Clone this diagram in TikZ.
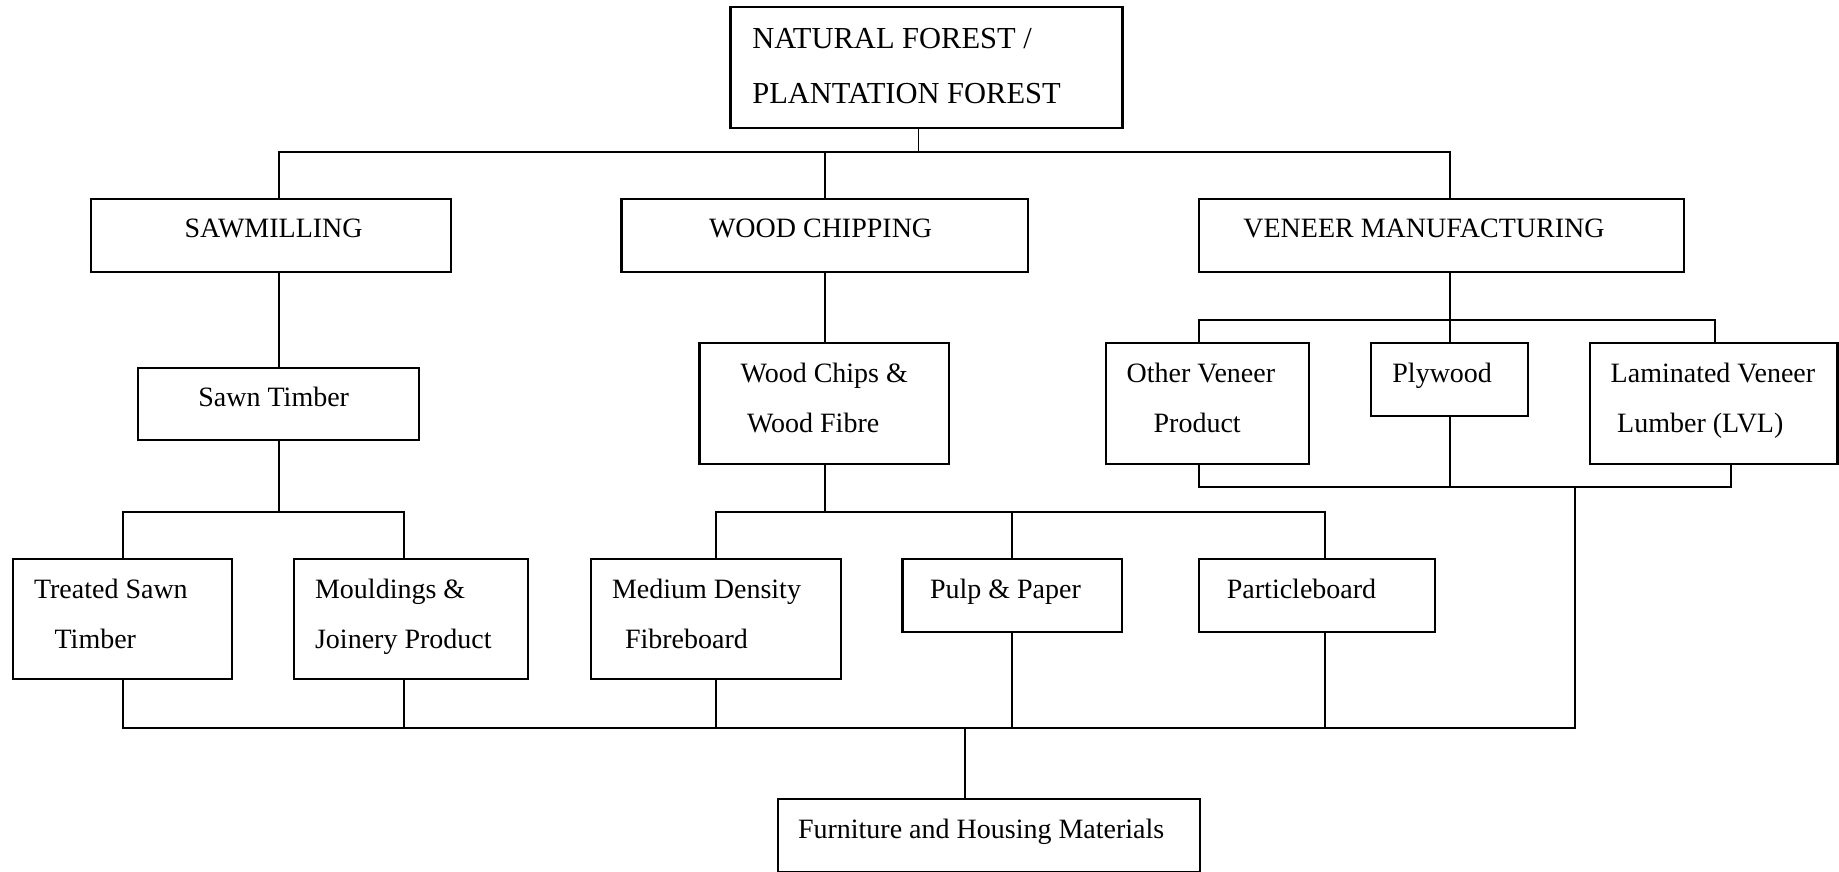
\documentclass[tikz,border=0pt]{standalone}
\usepackage{fontspec}
\setmainfont{Liberation Serif}
\begin{document}
\begin{tikzpicture}[x=1pt,y=-1pt,
  box/.style={draw, line width=2.3pt, inner sep=0pt, outer sep=0pt},
  conn/.style={draw, line width=1.7pt, line join=miter},
  txt/.style={anchor=base west, inner sep=0pt, outer sep=0pt, font=\fontsize{28}{33}\selectfont},
  bigtxt/.style={anchor=base west, inner sep=0pt, outer sep=0pt, font=\fontsize{30.5}{36}\selectfont}]
\useasboundingbox (0,0) rectangle (1839,871);
% boxes
\node[box, minimum width=391.9pt, minimum height=120.4pt] (top) at (926.55,67.5) {};
\node[box, minimum width=359.7pt, minimum height=72.4pt] (saw) at (270.85,235.5) {};
\node[box, minimum width=406.5pt, minimum height=72.4pt] (chip) at (824.75,235.5) {};
\node[box, minimum width=484.7pt, minimum height=72.4pt] (ven) at (1441.65,235.5) {};
\node[box, minimum width=281.1pt, minimum height=72.3pt] (sawn) at (278.45,403.85) {};
\node[box, minimum width=249.8pt, minimum height=120.7pt] (chips) at (824.4,403.65) {};
\node[box, minimum width=203pt, minimum height=120.7pt] (other) at (1207.5,403.65) {};
\node[box, minimum width=156.7pt, minimum height=72.7pt] (ply) at (1449.65,379.65) {};
\node[box, minimum width=247.3pt, minimum height=120.7pt] (lvl) at (1713.85,403.65) {};
\node[box, minimum width=218.9pt, minimum height=120pt] (treated) at (122.35,619.3) {};
\node[box, minimum width=234.2pt, minimum height=120pt] (mould) at (411.1,619.3) {};
\node[box, minimum width=250pt, minimum height=120pt] (mdf) at (716,619.3) {};
\node[box, minimum width=219.3pt, minimum height=72.7pt] (pulp) at (1012.25,595.65) {};
\node[box, minimum width=235.4pt, minimum height=72.7pt] (part) at (1317,595.65) {};
\node[box, minimum width=421.7pt, minimum height=72.5pt] (furn) at (989.05,835.55) {};
% texts
\node[bigtxt] (t1a) at (752.3,48.3) {NATURAL FOREST /};
\node[bigtxt] (t1b) at (752.3,103.3) {PLANTATION FOREST};
\node[txt] (t2) at (184.5,237.5) {SAWMILLING};
\node[txt] (t3) at (709,237.5) {WOOD CHIPPING};
\node[txt] (t4) at (1243.4,237.5) {VENEER MANUFACTURING};
\node[txt] (t5) at (198.4,406.7) {Sawn Timber};
\node[txt] (t6a) at (740.6,382.7) {Wood Chips \&};
\node[txt] (t6b) at (747,432.3) {Wood Fibre};
\node[txt] (t7a) at (1126.6,382.7) {Other Veneer};
\node[txt] (t7b) at (1153.6,432.3) {Product};
\node[txt] (t8) at (1392.4,382.7) {Plywood};
\node[txt] (t9a) at (1610.7,382.7) {Laminated Veneer};
\node[txt] (t9b) at (1617.2,432.3) {Lumber (LVL)};
\node[txt] (t10a) at (34,598.3) {Treated Sawn};
\node[txt] (t10b) at (54.6,648.3) {Timber};
\node[txt] (t11a) at (315.1,598.3) {Mouldings \&};
\node[txt] (t11b) at (315.1,648.3) {Joinery Product};
\node[txt] (t12a) at (612,598.3) {Medium Density};
\node[txt] (t12b) at (625,648.3) {Fibreboard};
\node[txt] (t13) at (930,598.3) {Pulp \& Paper};
\node[txt] (t14) at (1226.9,598.3) {Particleboard};
\node[txt] (t15) at (798,838.3) {Furniture and Housing Materials};
% column and row coordinates
\coordinate (c1) at (918.4,0);
\coordinate (c2) at (278.8,0);
\coordinate (c3) at (825,0);
\coordinate (c4) at (1450,0);
\coordinate (c5) at (1199.3,0);
\coordinate (c6) at (1715.2,0);
\coordinate (c7) at (122.7,0);
\coordinate (c8) at (403.8,0);
\coordinate (c9) at (716,0);
\coordinate (c10) at (1012.1,0);
\coordinate (c11) at (1325,0);
\coordinate (c12) at (1731,0);
\coordinate (c13) at (1574.9,0);
\coordinate (c14) at (965.2,0);
\coordinate (r1) at (0,151.7);
\coordinate (r2) at (0,320);
\coordinate (r3) at (0,511.7);
\coordinate (r4) at (0,487.3);
\coordinate (r5) at (0,727.7);
% connectors: top level
\draw[conn] (top.south -| c1) -- (c1 |- r1);
\draw[conn] (saw.north -| c2) -- (c2 |- r1) -- (c4 |- r1) -- (ven.north -| c4);
\draw[conn] (chip.north -| c3) -- (c3 |- r1);
% second level
\draw[conn] (saw.south -| c2) -- (sawn.north -| c2);
\draw[conn] (chip.south -| c3) -- (chips.north -| c3);
\draw[conn] (ven.south -| c4) -- (c4 |- r2);
\draw[conn] (other.north -| c5) -- (c5 |- r2) -- (c6 |- r2) -- (lvl.north -| c6);
\draw[conn] (ply.north -| c4) -- (c4 |- r2);
% third level
\draw[conn] (sawn.south -| c2) -- (c2 |- r3);
\draw[conn] (treated.north -| c7) -- (c7 |- r3) -- (c8 |- r3) -- (mould.north -| c8);
\draw[conn] (chips.south -| c3) -- (c3 |- r3);
\draw[conn] (mdf.north -| c9) -- (c9 |- r3) -- (c11 |- r3) -- (part.north -| c11);
\draw[conn] (pulp.north -| c10) -- (c10 |- r3);
% veneer products collector
\draw[conn] (other.south -| c5) -- (c5 |- r4) -- (c12 |- r4) -- (lvl.south -| c12);
\draw[conn] (ply.south -| c4) -- (c4 |- r4);
% bottom collector
\draw[conn] (treated.south -| c7) -- (c7 |- r5) -- (c13 |- r5) -- (c13 |- r4);
\draw[conn] (mould.south -| c8) -- (c8 |- r5);
\draw[conn] (mdf.south -| c9) -- (c9 |- r5);
\draw[conn] (pulp.south -| c10) -- (c10 |- r5);
\draw[conn] (part.south -| c11) -- (c11 |- r5);
\draw[conn] (c14 |- r5) -- (furn.north -| c14);
\end{tikzpicture}
\end{document}
